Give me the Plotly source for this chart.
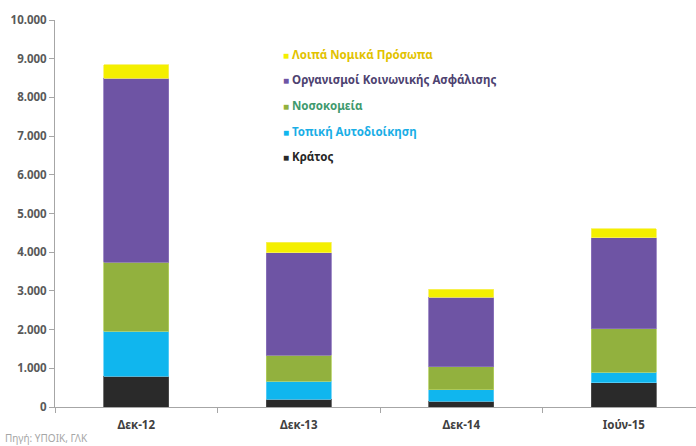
import plotly.graph_objects as go

# Periods and debt components (values in million euro)
periods = ["Δεκ-12", "Δεκ-13", "Δεκ-14", "Ιούν-15"]
kratos = [800, 200, 150, 630]
topiki = [1160, 470, 290, 270]
nosokomeia = [1785, 670, 600, 1120]
organismoi = [4745, 2650, 1790, 2350]
loipa = [360, 270, 210, 230]

series_names = ["Κράτος", "Τοπική Αυτοδιοίκηση", "Νοσοκομεία",
                "Οργανισμοί Κοινωνικής Ασφάλισης", "Λοιπά Νομικά Πρόσωπα"]
series_values = [kratos, topiki, nosokomeia, organismoi, loipa]
bar_colors = ["#2a2a2a", "#10b6ee", "#92b13e", "#6e54a4", "#f4ef00"]
edge_colors = ["#505050", "#60d0f8", "#b4d060", "#8c74bc", "#f8f060"]
text_colors = ["#262626", "#1aaee6", "#3f9a6e", "#4d4270", "#e2c200"]

FONT = "Noto Sans"
W, H = 696, 446
ML, MR, MT, MB = 55, 0, 20, 39

fig = go.Figure()
for name, vals, col, edge in zip(series_names, series_values, bar_colors, edge_colors):
    fig.add_trace(go.Bar(
        x=periods, y=vals, name=name, width=0.4,
        marker=dict(color=col, line=dict(color=edge, width=0.8)),
        showlegend=False,
    ))

# Legend drawn as coloured labels, top item = last stacked series
plot_w = W - ML - MR
plot_h = H - MT - MB
legend_x_px = 281
legend_y0_px = 54
legend_step = 25.7
for i, (name, tcol, bcol) in enumerate(zip(series_names[::-1], text_colors[::-1], bar_colors[::-1])):
    ypx = legend_y0_px + i * legend_step
    fig.add_annotation(
        x=(legend_x_px - ML) / plot_w, y=(H - MB - ypx) / plot_h,
        xref="paper", yref="paper", xanchor="left", yanchor="middle",
        showarrow=False, align="left",
        text=f"<span style='color:{bcol};font-size:10px'>■</span> {name}",
        font=dict(family=FONT, size=11.5, color=tcol, weight="bold"),
    )

fig.add_annotation(
    x=-ML / plot_w + 3 / plot_w, y=(H - MB - 438) / plot_h,
    xref="paper", yref="paper", xanchor="left", yanchor="middle",
    showarrow=False, text="Πηγή: ΥΠΟΙΚ, ΓΛΚ",
    font=dict(family=FONT, size=10, color="#a6a6a6"),
)

fig.update_layout(
    width=W, height=H,
    margin=dict(l=ML, r=MR, t=MT, b=MB),
    barmode="stack",
    separators=",.",
    plot_bgcolor="white", paper_bgcolor="white",
    font=dict(family=FONT),
    xaxis=dict(
        type="category", range=[-0.5, -0.5 + plot_w / 162.5],
        showline=True, linecolor="#a6a6a6", linewidth=1,
        ticks="outside", tickson="boundaries", ticklen=5, tickcolor="#a6a6a6",
        ticklabelstandoff=7,
        tickfont=dict(family=FONT, size=11.5, color="#404040", weight="bold"),
        showgrid=False,
    ),
    yaxis=dict(
        range=[0, 10000], dtick=1000, tickformat=",",
        showline=True, linecolor="#a6a6a6", linewidth=1,
        ticks="outside", ticklen=5, tickcolor="#a6a6a6",
        tickfont=dict(family=FONT, size=11.5, color="#595959", weight="bold"),
        showgrid=False, zeroline=False,
    ),
)

fig.write_html("out.html")
